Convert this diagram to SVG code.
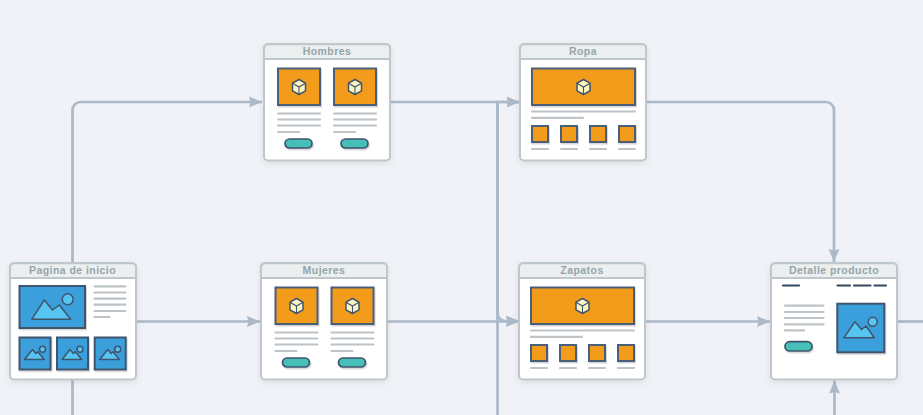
<svg xmlns="http://www.w3.org/2000/svg" width="923" height="415" viewBox="0 0 923 415">
<style>
.bg{fill:#f0f2f7}
.conn{fill:none;stroke:#abb9c9;stroke-width:2.7}
.card{fill:#fff;stroke:#bfc7cc;stroke-width:2}
.hdr{fill:#ebeff0;stroke:#bfc7cc;stroke-width:2}
.ttl{font-family:"Liberation Sans",Arial,sans-serif;font-size:10.5px;font-weight:bold;fill:#95a5a6;text-anchor:middle;letter-spacing:.45px}
.ln{stroke:#bdc3c7;stroke-width:2.2;stroke-linecap:round;fill:none}
.dk{stroke:#34495e;stroke-width:2.2;stroke-linecap:round;fill:none}
.or{fill:#f39c1e;stroke:#4a5f78;stroke-width:2}
.bl{fill:#3a9fdc;stroke:#3f546c;stroke-width:2}
.mt{fill:#56c5f2;stroke:#3f546c;stroke-width:1.5;stroke-linejoin:round}
.btn{fill:#44bfb8;stroke:#3f546c;stroke-width:1.7}
.cb{fill:#fdf6c3;stroke:#3f546c;stroke-width:1.5;stroke-linejoin:round}
</style>
<defs>
<marker id="ah" markerUnits="userSpaceOnUse" markerWidth="14" markerHeight="12" refX="13" refY="6" orient="auto"><path d="M0 .5L13 6L0 11.500L1.500 6Z" fill="#abb9c9"/></marker>
<filter id="sh" x="-15%" y="-15%" width="130%" height="130%"><feDropShadow dx="0" dy="2" stdDeviation="3" flood-color="#000" flood-opacity=".09"/></filter>
<filter id="s2" x="-15%" y="-15%" width="130%" height="140%"><feDropShadow dx="1" dy="1.500" stdDeviation=".6" flood-color="#000" flood-opacity=".16"/></filter>
<g id="card"><rect class="card" x="0" y="0.300" width="126" height="116.200" rx="4" filter="url(#sh)"/><path class="hdr" d="M0 15V4.300a4 4 0 0 1 4-4H122a4 4 0 0 1 4 4V15Z"/></g>
<g id="cube"><path class="cb" d="M0-7.500L6.500-3.800V3.800L0 7.500L-6.500 3.800V-3.800Z"/><path d="M-6.500-3.800L0 0L6.500-3.800M0 0V7.500" fill="none" stroke="#3f546c" stroke-width="1.100"/></g>
<g id="prod"><rect class="or" x="0" y="0" width="42" height="36.500" filter="url(#s2)"/><use href="#cube" x="21" y="18.500"/>
<path class="ln" d="M0 45H42M0 51H42M0 57H42M0 63.500H21"/><rect class="btn" x="7" y="70.500" width="27" height="9" rx="4.500" filter="url(#s2)"/></g>
<g id="banner"><rect class="or" x="0" y="0" width="103" height="36.500" filter="url(#s2)"/><use href="#cube" x="51.500" y="18.500"/>
<path class="ln" d="M0 43H103M0 49.300H51"/>
<g filter="url(#s2)"><rect class="or" x="0" y="57.500" width="16" height="16"/><rect class="or" x="29" y="57.500" width="16" height="16"/><rect class="or" x="58" y="57.500" width="16" height="16"/><rect class="or" x="87" y="57.500" width="16" height="16"/></g>
<path class="ln" d="M0 80.500H16M29 80.500H45M58 80.500H74M87 80.500H103"/></g>
<g id="thumb"><rect class="bl" x="0" y="0" width="31" height="32" filter="url(#s2)"/><path class="mt" d="M5 22L13 12L16.300 16L18.300 14.300L24.700 22Z"/><circle class="mt" cx="23" cy="11.700" r="3"/></g>
</defs>
<rect class="bg" width="923" height="415"/>
<g id="connectors">
<path class="conn" marker-end="url(#ah)" d="M72.500 263V110a8 8 0 0 1 8-8H262"/>
<path class="conn" d="M72.500 379V415"/>
<path class="conn" marker-end="url(#ah)" d="M135 321.500H260"/>
<path class="conn" marker-end="url(#ah)" d="M390 102H519.500"/>
<path class="conn" marker-end="url(#ah)" d="M497.500 415V102H519.500"/>
<path class="conn" marker-end="url(#ah)" d="M497.500 102V313a8 8 0 0 0 8 8H519"/>
<path class="conn" marker-end="url(#ah)" d="M387 321.500H519"/>
<path class="conn" marker-end="url(#ah)" d="M646 102H826a8 8 0 0 1 8 8V262"/>
<path class="conn" marker-end="url(#ah)" d="M645 321.500H770"/>
<path class="conn" d="M897 321.500H923"/>
<path class="conn" marker-end="url(#ah)" d="M834.500 415V380.500"/>
</g>
<g id="node-inicio" transform="translate(10 263)">
<use href="#card"/><text class="ttl" x="62.500" y="11">Pagina de inicio</text>
<rect class="bl" x="9.500" y="23" width="65.500" height="42" filter="url(#s2)"/>
<path class="mt" d="M21.700 56.300L34.300 37L42.500 47L49.300 42L60.700 56.300Z"/><circle class="mt" cx="57.700" cy="36.300" r="5.500"/>
<path class="ln" d="M84.500 23.300H115.500M84.500 29.500H115.500M84.500 35.700H115.500M84.500 41.700H115.500M84.500 48H115.500M84.500 54H99.500"/>
<use href="#thumb" x="9.500" y="74.500"/><use href="#thumb" x="47" y="74.500"/><use href="#thumb" x="84.700" y="74.500"/>
</g>
<g id="node-hombres" transform="translate(264 44)">
<use href="#card"/><text class="ttl" x="63" y="11">Hombres</text>
<use href="#prod" x="14" y="24.500"/><use href="#prod" x="70" y="24.500"/>
</g>
<g id="node-mujeres" transform="translate(261 263)">
<use href="#card"/><text class="ttl" x="63" y="11">Mujeres</text>
<use href="#prod" x="14.500" y="24.500"/><use href="#prod" x="70.500" y="24.500"/>
</g>
<g id="node-ropa" transform="translate(520 44)">
<use href="#card"/><text class="ttl" x="63" y="11">Ropa</text>
<use href="#banner" x="12" y="24.500"/>
</g>
<g id="node-zapatos" transform="translate(519 263)">
<use href="#card"/><text class="ttl" x="63" y="11">Zapatos</text>
<use href="#banner" x="12" y="24.500"/>
</g>
<g id="node-detalle" transform="translate(771 263)">
<use href="#card"/><text class="ttl" x="63" y="11">Detalle producto</text>
<path class="dk" d="M12 22.500H28M66.500 22.500H79M83 22.500H99.500M103.500 22.500H115"/>
<path class="ln" d="M14 42.700H52.500M14 49H52.500M14 55H52.500M14 61.300H52.500M14 67.300H33"/>
<rect class="btn" x="14" y="78.700" width="27" height="9.300" rx="4.600" filter="url(#s2)"/>
<rect class="bl" x="66.300" y="40.700" width="47" height="48.600" filter="url(#s2)"/>
<path class="mt" d="M73 74.700L84 58.700L90.500 66.500L95 63L103.300 74.700Z"/><circle class="mt" cx="101.700" cy="58.700" r="4.500"/>
</g>
</svg>
